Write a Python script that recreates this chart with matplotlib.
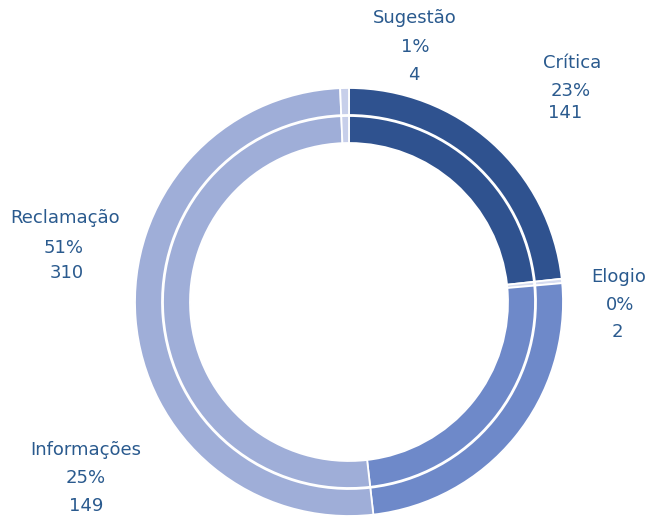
import matplotlib
matplotlib.use("Agg")
import matplotlib.pyplot as plt

categories = ["Crítica", "Elogio", "Informações", "Reclamação", "Sugestão"]
values = [141, 2, 149, 310, 4]
percents = ["23%", "0%", "25%", "51%", "1%"]
colors = ["#2F528F", "#D6DCF0", "#6E89C9", "#9FAED8", "#C7CFEA"]

W, H = 650, 516
fig = plt.figure(figsize=(W / 100, H / 100), dpi=100)
ax = fig.add_axes([0, 0, 1, 1])
ax.set_xlim(0, W)
ax.set_ylim(0, H)
ax.set_aspect("equal")
ax.axis("off")

cx, cy = 349, H - 302
R_out = 214
ring_w = 27
gap = 1

for r in (R_out, R_out - ring_w - gap):
    ax.pie(values, colors=colors, radius=r, center=(cx, cy), startangle=90,
           counterclock=False,
           wedgeprops=dict(width=ring_w, edgecolor="white", linewidth=1.3))

ax.set_xlim(0, W)
ax.set_ylim(0, H)

text_color = "#2A5A8E"
# per-line (x, y) pixel centres of the label blocks
label_pos = {
    "Sugestão": [(415, 18), (415, 47), (414, 75)],
    "Crítica": [(572, 63), (571, 91), (565, 113)],
    "Elogio": [(619, 277), (620, 305), (617, 332)],
    "Reclamação": [(65, 218), (64, 248), (67, 273)],
    "Informações": [(86, 450), (86, 478), (86, 506)],
}
for cat, pct, v in zip(categories, percents, values):
    for (x, y), line in zip(label_pos[cat], [cat, pct, str(v)]):
        ax.text(x, H - y, line, ha="center", va="center",
                fontsize=13, color=text_color, family=["DejaVu Sans"])

fig.savefig("out.png", dpi=100)
